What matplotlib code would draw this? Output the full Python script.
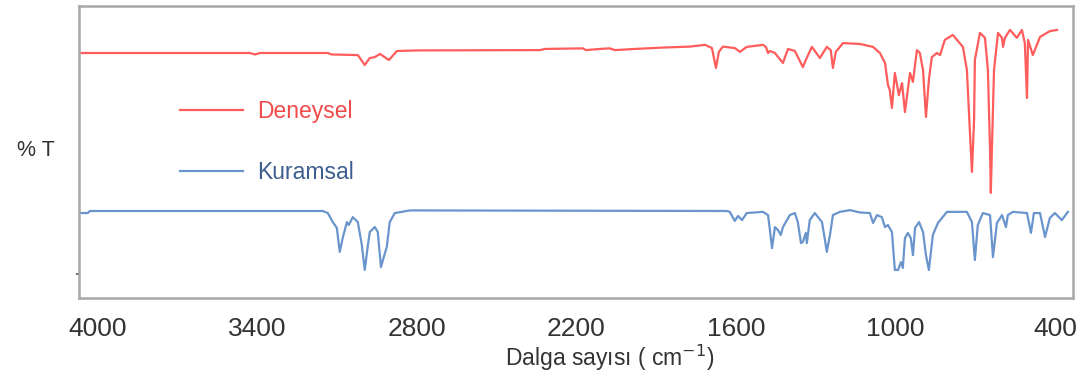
import matplotlib
matplotlib.use("Agg")
import matplotlib.pyplot as plt

plt.rcParams["font.family"] = ["Liberation Sans", "DejaVu Sans"]

# Experimental (Deneysel) IR spectrum: wavenumber (cm-1) and %T (offset, arbitrary scale)
exp_wn = [4068, 3428, 3409, 3391, 3135, 3120, 3022, 2996, 2977, 2958, 2939, 2905,
          2875, 2789, 2337, 2318, 2175, 2164, 2112, 2074, 2055, 1980, 1867, 1773,
          1716, 1690, 1675, 1664, 1649, 1604, 1585, 1559, 1498, 1487, 1479, 1472,
          1453, 1423, 1404, 1378, 1348, 1337, 1314, 1284, 1258, 1243, 1235, 1224,
          1197, 1133, 1084, 1058, 1039, 1028, 1021, 1013, 1002, 987, 975, 964,
          945, 934, 919, 908, 896, 885, 874, 863, 844, 832, 814, 784, 746, 731,
          720, 712, 704, 701, 682, 663, 652, 644, 641, 637, 629, 614, 599, 595,
          588, 569, 543, 524, 513, 505, 501, 483, 456, 419, 392]
exp_t = [83.9, 83.9, 83.4, 83.9, 83.9, 83.4, 83.2, 79.8, 82.2, 82.5, 83.6, 81.5,
         84.6, 84.8, 84.9, 85.3, 85.5, 84.9, 85.3, 85.5, 84.9, 85.3, 85.8, 86.1,
         86.7, 85.6, 78.8, 84.3, 86.1, 85.6, 84.3, 86.0, 86.7, 86.0, 83.9, 84.6,
         83.9, 80.5, 85.3, 84.6, 79.1, 81.5, 86.0, 82.2, 86.0, 84.9, 78.8, 84.3,
         87.3, 87.0, 86.0, 83.9, 80.5, 73.0, 71.2, 65.1, 77.1, 69.5, 73.6, 63.7,
         77.1, 74.0, 84.9, 83.9, 78.1, 62.0, 74.7, 82.5, 83.9, 83.2, 88.4, 90.1,
         86.0, 78.1, 57.5, 43.2, 61.0, 81.5, 90.8, 89.1, 78.1, 50.7, 36.0, 50.7,
         78.1, 90.8, 89.1, 86.0, 89.1, 91.8, 89.1, 91.8, 87.3, 68.5, 88.4, 83.2,
         89.4, 91.4, 91.8]

# Calculated (Kuramsal) IR spectrum
calc_wn = [4068, 4038, 4030, 3154, 3135, 3116, 3101, 3090, 3078, 3063, 3056, 3041,
           3022, 3007, 2996, 2984, 2977, 2958, 2947, 2935, 2920, 2913, 2902, 2883,
           2826, 1634, 1623, 1604, 1592, 1577, 1559, 1498, 1479, 1472, 1464, 1453,
           1442, 1431, 1423, 1397, 1378, 1367, 1355, 1348, 1337, 1333, 1322, 1303,
           1276, 1265, 1258, 1246, 1235, 1209, 1171, 1133, 1096, 1084, 1069, 1051,
           1039, 1028, 1013, 1002, 990, 979, 972, 964, 953, 942, 934, 926, 911,
           896, 885, 874, 859, 840, 806, 731, 712, 701, 690, 671, 644, 633, 618,
           599, 584, 577, 558, 505, 490, 479, 456, 437, 419, 400, 374, 351]
calc_t = [29.1, 29.1, 29.8, 29.8, 29.1, 26.0, 24.0, 15.8, 20.9, 26.0, 25.0, 27.7,
          26.0, 18.2, 9.6, 18.2, 22.6, 24.3, 22.6, 10.6, 15.4, 17.5, 26.0, 29.1,
          30.0, 29.8, 29.5, 26.4, 28.1, 26.7, 29.1, 29.5, 28.4, 23.3, 17.1, 24.3,
          23.3, 21.6, 24.3, 28.4, 29.1, 26.0, 18.8, 19.2, 22.3, 18.8, 26.7, 29.1,
          26.0, 19.9, 15.8, 21.6, 28.4, 29.5, 30.1, 29.3, 29.1, 25.7, 28.4, 27.7,
          24.3, 25.0, 22.6, 9.6, 9.6, 12.3, 10.3, 20.5, 22.3, 20.5, 14.7, 24.0,
          26.0, 22.6, 14.7, 9.6, 21.6, 25.7, 29.5, 29.5, 26.0, 13.0, 25.0, 29.1,
          28.4, 14.0, 25.7, 28.4, 24.3, 28.4, 29.5, 29.1, 22.3, 29.1, 29.1, 20.9,
          27.4, 29.1, 26.7, 29.5]

x_ticks = [4000, 3400, 2800, 2200, 1600, 1000, 400]
series_labels = ["Deneysel", "Kuramsal"]

RED = "#ff5c5c"
BLUE = "#6a95cc"
TEXT = "#333333"

fig = plt.figure(figsize=(10.86, 3.76), dpi=100)
ax = fig.add_axes([0.0727, 0.2074, 0.9153, 0.7766])

l1, = ax.plot(exp_wn, exp_t, color=RED, lw=1.6, label=series_labels[0],
              solid_joinstyle="round")
l2, = ax.plot(calc_wn, calc_t, color=BLUE, lw=1.6, label=series_labels[1],
              solid_joinstyle="round")

ax.set_xlim(4071, 332)
ax.set_ylim(0, 100)
ax.set_xticks(x_ticks)
ax.set_xticklabels([str(v) for v in x_ticks])
ax.tick_params(axis="x", length=0, pad=14, labelsize=19, labelcolor=TEXT)
ax.set_yticks([8.2])
ax.set_yticklabels([""])
ax.tick_params(axis="y", length=2, width=1.2, color="#555555", direction="out")

for sp in ax.spines.values():
    sp.set_color("#a8a8a8")
    sp.set_linewidth(1.8)

ax.set_xlabel("Dalga sayısı ( cm$^{\\mathsf{-1}}$)", fontsize=16.5, color=TEXT)
ax.xaxis.set_label_coords(0.534, -0.155)
fig.text(0.033, 0.601, "% T", fontsize=15.5, color=TEXT, ha="center", va="center")

leg = ax.legend(handles=[l1, l2], loc="upper left",
                bbox_to_anchor=(0.0905, 0.716), frameon=False, fontsize=16.5,
                handlelength=2.75, handletextpad=0.62, labelspacing=1.62,
                borderpad=0)
leg.get_texts()[0].set_color("#f24a4a")
leg.get_texts()[1].set_color("#3d5f8f")

fig.savefig("out.png", dpi=100, facecolor="white")
